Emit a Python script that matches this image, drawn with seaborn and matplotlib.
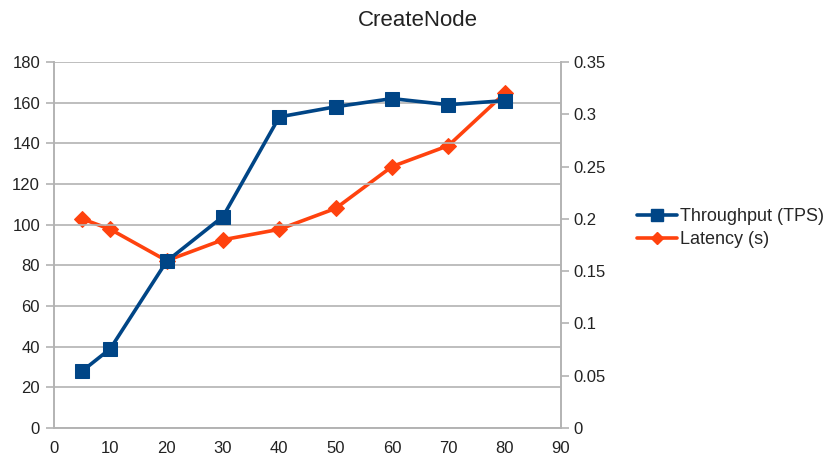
import matplotlib
matplotlib.use("Agg")
import matplotlib.pyplot as plt
import seaborn as sns
import pandas as pd
from matplotlib.lines import Line2D

# Benchmark results for CreateNode
clients = [5, 10, 20, 30, 40, 50, 60, 70, 80]
throughput_tps = [28, 39, 82, 104, 153, 158, 162, 159, 161]
latency_s = [0.20, 0.19, 0.16, 0.18, 0.19, 0.21, 0.25, 0.27, 0.32]

df = pd.DataFrame({"clients": clients, "throughput": throughput_tps, "latency": latency_s})

sns.set_style("white")
plt.rcParams["font.family"] = ["Liberation Sans", "DejaVu Sans"]

blue = "#004586"
orange = "#ff420e"
grid_c = "#b3b3b3"

fig = plt.figure(figsize=(8.25, 4.65), dpi=100)
ax = fig.add_axes([54 / 825, 1 - 428 / 465, 507 / 825, 366 / 465])
ax2 = ax.twinx()

sns.lineplot(data=df, x="clients", y="throughput", ax=ax, color=blue, lw=2.6,
             marker="s", markersize=10, markeredgecolor=blue, zorder=3)
sns.lineplot(data=df, x="clients", y="latency", ax=ax2, color=orange, lw=2.6,
             marker="D", markersize=8, markeredgecolor=orange, zorder=3)

ax.set_zorder(ax2.get_zorder() + 1)
ax.patch.set_visible(False)

ax.set_xlim(0, 90)
ax.set_ylim(0, 180)
ax2.set_ylim(0, 0.35)
ax.set_xticks(range(0, 91, 10))
ax.set_yticks(range(0, 181, 20))
ax2.set_yticks([0, 0.05, 0.1, 0.15, 0.2, 0.25, 0.3, 0.35])
ax2.set_yticklabels(["0", "0.05", "0.1", "0.15", "0.2", "0.25", "0.3", "0.35"])

ax.yaxis.grid(True, color=grid_c, lw=1.2)
ax.xaxis.grid(False)
ax2.grid(False)
ax.set_xlabel("")
ax.set_ylabel("")
ax2.set_ylabel("")

for a in (ax, ax2):
    for side, sp in a.spines.items():
        sp.set_color(grid_c)
        sp.set_linewidth(1.2)
    a.spines["top"].set_visible(False)
    a.tick_params(colors=grid_c, labelcolor="#222222", labelsize=12, length=6, width=1.2)
ax.tick_params(axis="y", pad=4)
ax2.tick_params(axis="y", pad=3)
ax.tick_params(axis="x", pad=3)

fig.text(418 / 825, 1 - 20 / 465, "CreateNode", ha="center", va="center", fontsize=16, color="#222222")

handles = [
    Line2D([], [], color=blue, lw=2.6, marker="s", markersize=8),
    Line2D([], [], color=orange, lw=2.6, marker="D", markersize=6),
]
fig.legend(handles, ["Throughput (TPS)", "Latency (s)"], loc="center left",
           bbox_to_anchor=(630 / 825, 1 - 228 / 465), frameon=False, fontsize=13,
           handlelength=2.2, handletextpad=0.15, labelspacing=0.35, borderaxespad=0)

fig.savefig("out.png", dpi=100)
